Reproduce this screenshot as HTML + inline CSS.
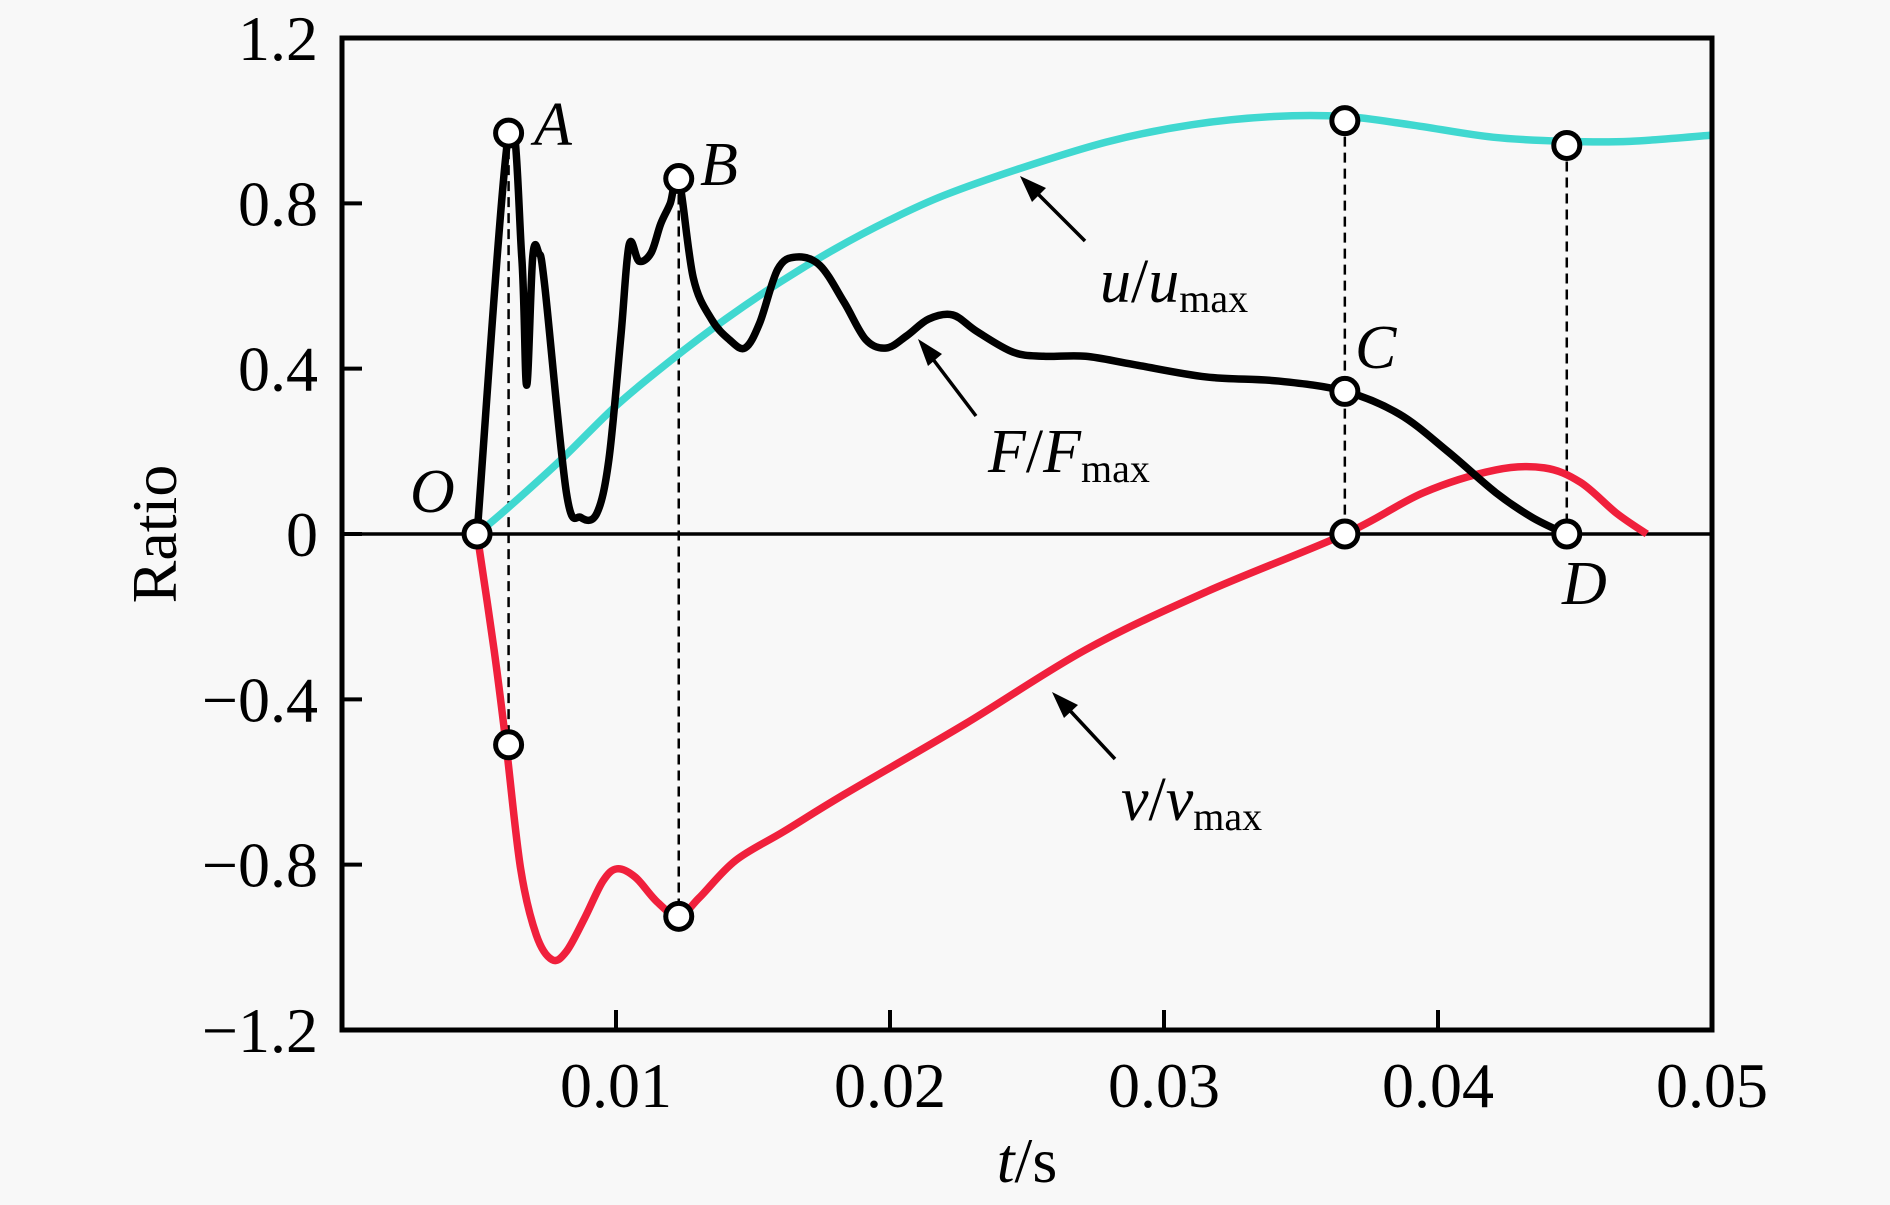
<!DOCTYPE html>
<html><head><meta charset="utf-8"><style>
html,body{margin:0;padding:0;background:#f8f8f8;}
svg{display:block;font-family:"Liberation Serif",serif;}
</style></head><body>
<svg id="chart" width="1890" height="1205" viewBox="0 0 1890 1205" xmlns="http://www.w3.org/2000/svg">
<rect x="0" y="0" width="1890" height="1205" fill="#f8f8f8"/>
<g id="plot"></g>
</svg>
<script>
const xTicks=[0.01,0.02,0.03,0.04,0.05];
const xTickLabels=["0.01","0.02","0.03","0.04","0.05"];
const yTicks=[1.2,0.8,0.4,0,-0.4,-0.8,-1.2];
const yTickLabels=["1.2","0.8","0.4","0","\u22120.4","\u22120.8","\u22121.2"];
const uT=[0.00493,0.006,0.008,0.010,0.012,0.014,0.016,0.018,0.020,0.022,0.025,0.028,0.031,0.034,0.0366,0.039,0.042,0.0447,0.047,0.050];
const uV=[0,0.06,0.18,0.31,0.42,0.52,0.61,0.69,0.76,0.82,0.89,0.95,0.99,1.01,1.01,0.99,0.96,0.95,0.95,0.965];
const fT=[0.00493,0.00608,0.00656,0.00674,0.00696,0.00718,0.0074,0.00819,0.00872,0.0093,0.00974,0.01018,0.01048,0.01084,0.01128,0.01163,0.01198,0.01229,0.01282,0.01348,0.01414,0.01471,0.01524,0.0159,0.01656,0.01744,0.01833,0.01912,0.01987,0.02062,0.02141,0.02229,0.02317,0.02449,0.0256,0.02714,0.0289,0.03154,0.03419,0.03661,0.03859,0.04035,0.04211,0.04344,0.04467];
const fV=[0,0.97,0.67,0.36,0.67,0.68,0.6,0.1,0.04,0.05,0.18,0.48,0.70,0.66,0.68,0.75,0.8,0.86,0.62,0.52,0.47,0.45,0.51,0.64,0.67,0.65,0.56,0.47,0.45,0.48,0.52,0.53,0.49,0.44,0.43,0.43,0.41,0.38,0.37,0.345,0.29,0.2,0.1,0.04,0];
const vT=[0.00493,0.00555,0.00599,0.00652,0.00709,0.00767,0.00819,0.00885,0.00952,0.01004,0.0107,0.0115,0.01229,0.01304,0.01436,0.01612,0.01833,0.02273,0.02714,0.03154,0.03661,0.03947,0.04211,0.04388,0.0452,0.04652,0.04762];
const vV=[0,-0.28,-0.51,-0.81,-0.97,-1.03,-1.01,-0.93,-0.84,-0.81,-0.83,-0.89,-0.925,-0.88,-0.79,-0.72,-0.63,-0.46,-0.28,-0.14,0,0.1,0.155,0.16,0.125,0.05,0];
const markT=[0.00493,0.00608,0.00608,0.01229,0.01229,0.0366,0.0366,0.0366,0.0447,0.0447];
const markV=[0,0.97,-0.51,0.86,-0.925,1.0,0.345,0,0.94,0];
const dropT=[0.00608,0.01229,0.0366,0.0447];
const dropTop=[0.97,0.86,1.0,0.94];
const dropBot=[-0.51,-0.925,0,0];

const L=342,R=1712,T=38,B=1030;
const X=t=>L+t/0.05*(R-L);
const Y=v=>T+(1.2-v)/2.4*(B-T);
const NS="http://www.w3.org/2000/svg";
const g=document.getElementById('plot');
function mk(tag,attrs,parent){const e=document.createElementNS(NS,tag);for(const k in attrs)e.setAttribute(k,attrs[k]);(parent||g).appendChild(e);return e;}
function smooth(ts,vs){const p=ts.map((t,i)=>[X(t),Y(vs[i])]);let d=`M${p[0][0]},${p[0][1]}`;for(let i=0;i<p.length-1;i++){const p0=p[Math.max(0,i-1)],p1=p[i],p2=p[i+1],p3=p[Math.min(p.length-1,i+2)];const c1=[p1[0]+(p2[0]-p0[0])/6,p1[1]+(p2[1]-p0[1])/6],c2=[p2[0]-(p3[0]-p1[0])/6,p2[1]-(p3[1]-p1[1])/6];d+=`C${c1[0]},${c1[1]} ${c2[0]},${c2[1]} ${p2[0]},${p2[1]}`;}return d;}

xTicks.forEach((t,i)=>{
 if(t<0.05){const tk=mk('line',{x1:X(t),x2:X(t),y1:B,y2:B-20,stroke:'#000','stroke-width':4});
 
 }
 const tx=mk('text',{x:X(t),y:1107,'font-size':64,'text-anchor':'middle',fill:'#000'});tx.textContent=xTickLabels[i];
 
 
});
yTicks.forEach((v,i)=>{
 const tk=mk('line',{x1:L,x2:L+20,y1:Y(v),y2:Y(v),stroke:'#000','stroke-width':4});
 
 
 const tx=mk('text',{x:318,y:Y(v)+22,'font-size':64,'text-anchor':'end',fill:'#000'});tx.textContent=yTickLabels[i];
 
 
});
const zl=mk('line',{x1:L,x2:R,y1:Y(0),y2:Y(0),stroke:'#000','stroke-width':3.5});



dropT.forEach((t,i)=>{const d=mk('line',{x1:X(t),x2:X(t),y1:Y(dropTop[i]),y2:Y(dropBot[i]),stroke:'#000','stroke-width':2.5,'stroke-dasharray':'10,6'});
 
 });

const cu=mk('path',{d:smooth(uT,uV),fill:'none',stroke:'#40d8d0','stroke-width':7.5});


const cv=mk('path',{d:smooth(vT,vV),fill:'none',stroke:'#f0203c','stroke-width':7.5});


const cf=mk('path',{d:smooth(fT,fV),fill:'none',stroke:'#000','stroke-width':7.5,'stroke-linejoin':'round'});



markT.forEach((t,i)=>{const c=mk('circle',{cx:X(t),cy:Y(markV[i]),r:13,fill:'#fff',stroke:'#000','stroke-width':5});
 
 });

const fr=mk('rect',{x:L,y:T,width:R-L,height:B-T,fill:'none',stroke:'#000','stroke-width':5});


</script>
<svg style="position:absolute;left:0;top:0" width="1890" height="1205" font-family="Liberation Serif, serif">
<g font-size="62" font-style="italic">
<text x="534" y="145">A</text>
<text x="700" y="185">B</text>
<text x="410" y="512">O</text>
<text x="1355" y="368">C</text>
<text x="1562" y="604">D</text>
</g>
<text x="1100" y="302" font-size="62"><tspan font-style="italic">u</tspan>/<tspan font-style="italic">u</tspan><tspan font-size="40" dy="10">max</tspan></text>
<text x="988" y="472" font-size="62"><tspan font-style="italic">F</tspan>/<tspan font-style="italic">F</tspan><tspan font-size="40" dy="10">max</tspan></text>
<text x="1121" y="820" font-size="62"><tspan font-style="italic">v</tspan>/<tspan font-style="italic">v</tspan><tspan font-size="40" dy="10">max</tspan></text>
<g stroke="#000" stroke-width="3.5">
<line x1="1085" y1="241" x2="1030" y2="186"/>
<line x1="976" y1="416" x2="926" y2="350"/>
<line x1="1115" y1="759" x2="1062" y2="702"/>
</g>
<g fill="#000">
<polygon points="1020,176 1046,188 1032,202"/>
<polygon points="918,339 942,354 928,366"/>
<polygon points="1052,692 1078,705 1064,718"/>
</g>
<text x="1027" y="1182" font-size="64" text-anchor="middle"><tspan font-style="italic">t</tspan>/s</text>
<text x="0" y="0" font-size="64" text-anchor="middle" transform="translate(176,534) rotate(-90)">Ratio</text>
</svg>
</body></html>
